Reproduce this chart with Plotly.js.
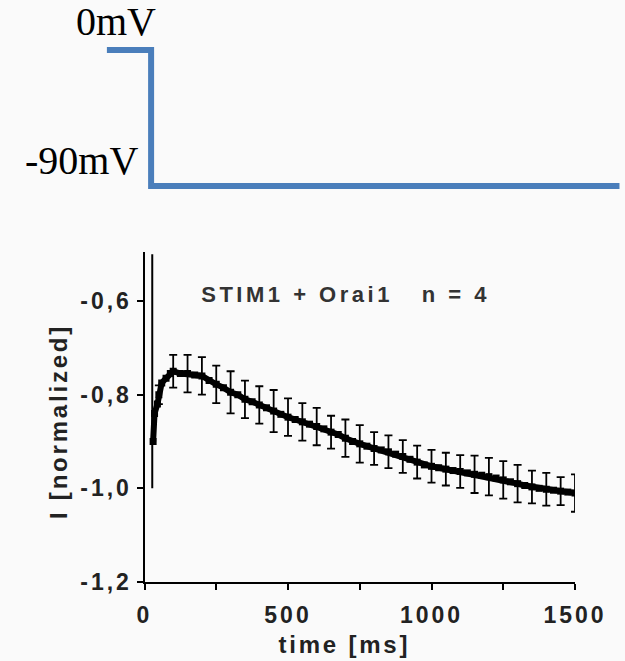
<!DOCTYPE html>
<html>
<head>
<meta charset="utf-8">
<script src="https://cdn.plot.ly/plotly-3.0.1.min.js"></script>
<style>
  html, body { margin: 0; padding: 0; background: #fafafa; }
  #chart { width: 625px; height: 661px; }
  .xtick text, .ytick text { letter-spacing: 3px; }
  g.annotation[data-index="0"] text { letter-spacing: 3.5px; }
  g.annotation[data-index="1"] text, g.annotation[data-index="2"] text { letter-spacing: 2.8px; }
</style>
</head>
<body>
<div id="chart"></div>
<script>
// Voltage protocol (top panel)
const protocolTime = [-131, 23, 23, 1655];
const protocolVoltage = [0, 0, -90, -90];
const protocolLabels = ["0mV", "-90mV"];

// Capacitive transient at the step
const transientTime = [27, 27];
const transientCurrent = [-1.0, -0.5];

// Normalized current trace (mean)
const time = [30, 35, 45, 50, 60, 75, 90, 100, 125, 150, 175, 200, 225, 250, 275, 300, 325, 350, 375, 400,
  425, 450, 475, 500, 525, 550, 575, 600, 625, 650, 675, 700, 725, 750, 775, 800, 825, 850, 875, 900,
  925, 950, 975, 1000, 1025, 1050, 1075, 1100, 1125, 1150, 1175, 1200, 1225, 1250, 1275, 1300, 1325,
  1350, 1375, 1400, 1425, 1450, 1475, 1500];
const current = [-0.90, -0.84, -0.82, -0.80, -0.775, -0.765, -0.755, -0.75, -0.755, -0.755, -0.758, -0.76,
  -0.77, -0.778, -0.785, -0.795, -0.80, -0.81, -0.815, -0.822, -0.828, -0.835, -0.842, -0.848, -0.853,
  -0.858, -0.863, -0.868, -0.873, -0.88, -0.885, -0.893, -0.90, -0.905, -0.91, -0.915, -0.918, -0.922,
  -0.927, -0.932, -0.938, -0.944, -0.95, -0.953, -0.956, -0.959, -0.962, -0.964, -0.967, -0.97, -0.972,
  -0.975, -0.978, -0.982, -0.986, -0.99, -0.994, -0.997, -1.0, -1.002, -1.004, -1.006, -1.008, -1.01];

// SEM shown every 50 ms
const semTime = [50, 100, 150, 200, 250, 300, 350, 400, 450, 500, 550, 600, 650, 700, 750, 800, 850, 900,
  950, 1000, 1050, 1100, 1150, 1200, 1250, 1300, 1350, 1400, 1450, 1500];
const sem = [0.02, 0.035, 0.04, 0.04, 0.04, 0.045, 0.04, 0.04, 0.045, 0.04, 0.04, 0.04, 0.035, 0.04, 0.04,
  0.035, 0.035, 0.035, 0.035, 0.035, 0.035, 0.035, 0.04, 0.04, 0.04, 0.04, 0.035, 0.035, 0.03, 0.04];

// Axis ticks
const xTickVals = [0, 250, 500, 750, 1000, 1250, 1500];
const xTickText = ["0", "", "500", "", "1000", "", "1500"];
const yTickVals = [-0.6, -0.8, -1.0, -1.2];
const yTickText = ["-0,6", "-0,8", "-1,0", "-1,2"];

const annotationText = "STIM1 + Orai1\u00A0\u00A0\u00A0n = 4";
const xTitle = "time [ms]";
const yTitle = "I [normalized]";

const semMean = semTime.map(t => current[time.indexOf(t)]);

const W = 625, H = 661;
const xL = 144.5, xR = 575, yTop = 252, yBot = 582;
const pxPerMs = (xR - xL) / 1500;

const sans = "Liberation Sans, Arial, sans-serif";
const serif = "Liberation Serif, Times New Roman, serif";
const textColor = "#222";

const traces = [
  {
    x: protocolTime, y: protocolVoltage, xaxis: "x2", yaxis: "y2",
    mode: "lines", line: {color: "#4a7ebb", width: 6}, hoverinfo: "skip", showlegend: false
  },
  {
    x: transientTime, y: transientCurrent, mode: "lines",
    line: {color: "#000", width: 2}, showlegend: false
  },
  {
    x: semTime, y: semMean, mode: "markers",
    marker: {size: 2, color: "#000"},
    error_y: {type: "data", array: sem, visible: true, color: "#000", thickness: 1.8, width: 4},
    showlegend: false
  },
  {
    x: time, y: current, mode: "lines+markers",
    line: {color: "#000", width: 6},
    marker: {symbol: "square", size: 7, color: "#000"},
    showlegend: false
  }
];

const layout = {
  width: W, height: H,
  margin: {l: 0, r: 0, t: 0, b: 0},
  paper_bgcolor: "#fafafa",
  plot_bgcolor: "rgba(0,0,0,0)",
  showlegend: false,
  font: {family: sans, color: textColor},
  xaxis: {
    domain: [xL / W, xR / W],
    range: [0, 1500],
    tickvals: xTickVals, ticktext: xTickText,
    ticks: "outside", ticklen: 6, tickwidth: 2, tickcolor: "#000",
    showline: true, linecolor: "#000", linewidth: 2,
    showgrid: false, zeroline: false,
    tickfont: {family: sans, size: 23, color: textColor, weight: "bold"},
    ticklabelstandoff: 5,
    automargin: false,
    anchor: "y"
  },
  yaxis: {
    domain: [(H - yBot) / H, (H - yTop) / H],
    range: [-1.2, -1.2 + 0.6 * (yBot - yTop) / (yBot - 301)],
    tickvals: yTickVals, ticktext: yTickText,
    ticks: "outside", ticklen: 6, tickwidth: 2, tickcolor: "#000",
    showline: true, linecolor: "#000", linewidth: 2,
    showgrid: false, zeroline: false,
    tickfont: {family: sans, size: 23, color: textColor, weight: "bold"},
    ticklabelstandoff: 0,
    automargin: false,
    anchor: "x"
  },
  xaxis2: {
    domain: [0, 1],
    range: [-xL / pxPerMs, (W - xL) / pxPerMs],
    visible: false, anchor: "y2", automargin: false
  },
  yaxis2: {
    domain: [1 - 230 / H, 1],
    range: [-(230 - 50) * 90 / 136, 50 * 90 / 136],
    visible: false, anchor: "x2", automargin: false
  },
  annotations: [
    {
      text: annotationText, xref: "paper", yref: "paper", x: 346 / W, y: 1 - 294 / H,
      xanchor: "center", yanchor: "middle", showarrow: false,
      font: {family: sans, size: 22, color: "#333", weight: "bold"}
    },
    {
      text: xTitle, xref: "paper", yref: "paper", x: 344 / W, y: 1 - 644 / H,
      xanchor: "center", yanchor: "middle", showarrow: false,
      font: {family: sans, size: 24, color: textColor, weight: "bold"}
    },
    {
      text: yTitle, xref: "paper", yref: "paper", x: 57.5 / W, y: 1 - 422 / H,
      xanchor: "center", yanchor: "middle", showarrow: false, textangle: -90,
      font: {family: sans, size: 24, color: textColor, weight: "bold"}
    },
    {
      text: protocolLabels[0], xref: "paper", yref: "paper", x: 158 / W, y: 1 - 22 / H,
      xanchor: "right", yanchor: "middle", showarrow: false,
      font: {family: serif, size: 40, color: "#000"}
    },
    {
      text: protocolLabels[1], xref: "paper", yref: "paper", x: 140 / W, y: 1 - 160 / H,
      xanchor: "right", yanchor: "middle", showarrow: false,
      font: {family: serif, size: 40, color: "#000"}
    }
  ]
};

Plotly.newPlot("chart", traces, layout, {displayModeBar: false, staticPlot: true});
</script>
</body>
</html>
